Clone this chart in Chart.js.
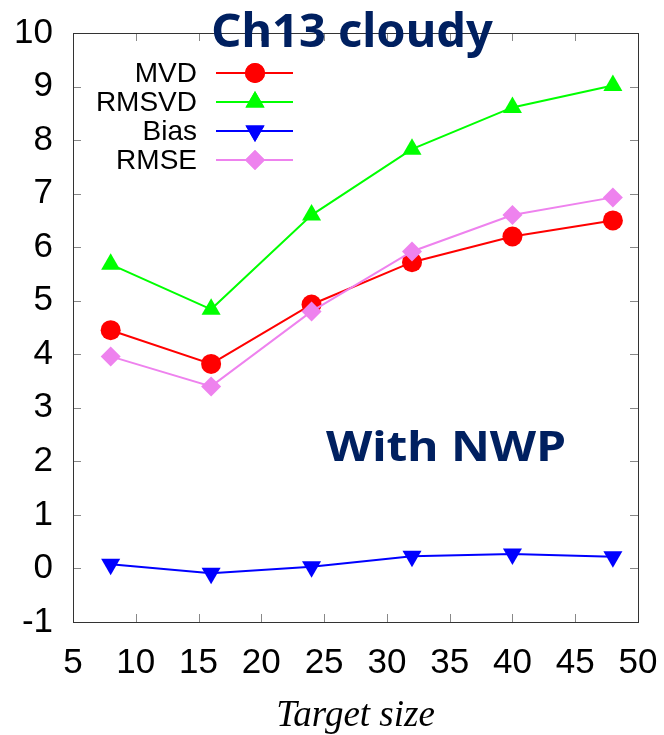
<!DOCTYPE html>
<html>
<head>
<meta charset="utf-8">
<script src="https://cdn.jsdelivr.net/npm/chart.js@4/dist/chart.umd.min.js"></script>
<style>
  html, body { margin: 0; padding: 0; background: #ffffff; }
  #wrap { width: 664px; height: 735px; }
</style>
</head>
<body>
<div id="wrap"><canvas id="c" width="664" height="735"></canvas></div>
<script>
// Target sizes (x) and the four error statistics
const targetSize = [8, 16, 24, 32, 40, 48];
const mvd    = [4.45, 3.82, 4.93, 5.72, 6.20, 6.50];
const rmsvd  = [5.68, 4.84, 6.60, 7.83, 8.61, 9.02];
const bias   = [0.08, -0.09, 0.03, 0.23, 0.27, 0.22];
const rmse   = [3.96, 3.40, 4.80, 5.92, 6.60, 6.93];

const seriesNames = ['MVD', 'RMSVD', 'Bias', 'RMSE'];
const xTicks = [5, 10, 15, 20, 25, 30, 35, 40, 45, 50];
const yTicks = [-1, 0, 1, 2, 3, 4, 5, 6, 7, 8, 9, 10];

const chartTitle = 'Ch13 cloudy';
const noteText = 'With NWP';
const xAxisTitle = 'Target size';

const pts = ys => targetSize.map((x, i) => ({ x: x, y: ys[i] }));

const NAVY = '#002060';

function mkSet(label, data, color, style, rot, radius, order) {
  return {
    label: label,
    data: pts(data),
    showLine: true,
    borderColor: color,
    backgroundColor: color,
    borderWidth: 2,
    pointStyle: style,
    rotation: rot,
    pointRadius: radius,
    pointHoverRadius: radius,
    pointBorderWidth: 0,
    pointBackgroundColor: color,
    order: order
  };
}

const datasets = [
  mkSet(seriesNames[0], mvd,   '#ff0000', 'circle',   0,   10, 3),
  mkSet(seriesNames[1], rmsvd, '#00ff00', 'triangle', 0,   11, 2),
  mkSet(seriesNames[2], bias,  '#0000ff', 'triangle', 180, 11, 1),
  mkSet(seriesNames[3], rmse,  '#ee82ee', 'rectRot',  0,   10, 0)
];

// Frame with inward tick marks on all four sides
const framePlugin = {
  id: 'frame',
  beforeDatasetsDraw(chart) {
    const { ctx, chartArea: a, scales } = chart;
    ctx.save();
    ctx.strokeStyle = '#888888';
    ctx.lineWidth = 1;
    const tl = 8;
    ctx.beginPath();
    xTicks.forEach(v => {
      const px = Math.round(scales.x.getPixelForValue(v)) + 0.5;
      ctx.moveTo(px, a.bottom); ctx.lineTo(px, a.bottom - tl);
      ctx.moveTo(px, a.top); ctx.lineTo(px, a.top + tl);
    });
    yTicks.forEach(v => {
      const py = Math.round(scales.y.getPixelForValue(v)) + 0.5;
      ctx.moveTo(a.left, py); ctx.lineTo(a.left + tl, py);
      ctx.moveTo(a.right, py); ctx.lineTo(a.right - tl, py);
    });
    ctx.stroke();
    ctx.strokeStyle = '#333333';
    ctx.strokeRect(Math.round(a.left) + 0.5, Math.round(a.top) + 0.5,
                   Math.round(a.right - a.left), Math.round(a.bottom - a.top));
    ctx.restore();
  }
};

// Title, in-plot note and the key
const overlayPlugin = {
  id: 'overlay',
  afterDraw(chart) {
    const { ctx, chartArea: a, scales } = chart;
    ctx.save();

    // key
    ctx.font = '28px "Liberation Sans", Arial, sans-serif';
    ctx.textAlign = 'right';
    ctx.textBaseline = 'middle';
    chart.data.datasets.forEach((ds, i) => {
      const y = 73 + i * 29;
      ctx.fillStyle = '#000000';
      ctx.fillText(ds.label, 197, y + 1);
      ctx.strokeStyle = ds.borderColor;
      ctx.lineWidth = 2;
      ctx.beginPath();
      ctx.moveTo(216, y); ctx.lineTo(293, y);
      ctx.stroke();
      ctx.fillStyle = ds.backgroundColor;
      Chart.helpers.drawPoint(ctx, {
        pointStyle: ds.pointStyle, rotation: ds.rotation,
        radius: ds.pointRadius, borderWidth: 0
      }, 255, y);
      ctx.fill();
    });

    // note inside the plot
    ctx.fillStyle = NAVY;
    ctx.textAlign = 'center';
    ctx.textBaseline = 'alphabetic';
    ctx.font = 'bold 42px "Noto Sans", sans-serif';
    const nx = scales.x.getPixelForValue(34.7);
    const ny = scales.y.getPixelForValue(2.0);
    const nw = ctx.measureText(noteText).width;
    ctx.save();
    ctx.translate(nx, ny);
    ctx.scale(240 / nw, 1);
    ctx.fillText(noteText, 0, 0);
    ctx.restore();

    // chart title, sitting across the top border
    ctx.font = 'bold 47px "Noto Sans", sans-serif';
    ctx.fillText(chartTitle, 352, 47);
    ctx.restore();
  }
};

new Chart(document.getElementById('c'), {
  type: 'scatter',
  data: { datasets: datasets },
  options: {
    responsive: false,
    animation: false,
    layout: { padding: { top: 33, right: 26, left: 0, bottom: 0 } },
    plugins: {
      legend: { display: false },
      title: { display: false },
      tooltip: { enabled: false }
    },
    scales: {
      x: {
        type: 'linear',
        min: 5, max: 50,
        afterFit(s) { s.height = 113; s.paddingLeft = 0; s.paddingRight = 0; },
        afterBuildTicks(s) { s.ticks = xTicks.map(v => ({ value: v })); },
        grid: { display: false, drawTicks: false },
        border: { display: false },
        ticks: {
          color: '#000000',
          padding: 20,
          font: { family: '"Liberation Sans", Arial, sans-serif', size: 35 },
          maxRotation: 0, autoSkip: false
        },
        title: {
          display: true,
          text: xAxisTitle,
          color: '#000000',
          padding: { top: 0, bottom: 0 },
          font: { family: '"Liberation Serif", "DejaVu Serif", serif', size: 37, style: 'italic', lineHeight: 1.0 }
        }
      },
      y: {
        type: 'linear',
        min: -1, max: 10,
        afterFit(s) { s.width = 73; s.paddingTop = 0; s.paddingBottom = 0; },
        afterBuildTicks(s) { s.ticks = yTicks.map(v => ({ value: v })); },
        grid: { display: false, drawTicks: false },
        border: { display: false },
        ticks: {
          color: '#000000',
          padding: 20,
          font: { family: '"Liberation Sans", Arial, sans-serif', size: 35 },
          autoSkip: false
        }
      }
    }
  },
  plugins: [framePlugin, overlayPlugin]
});
</script>
</body>
</html>
